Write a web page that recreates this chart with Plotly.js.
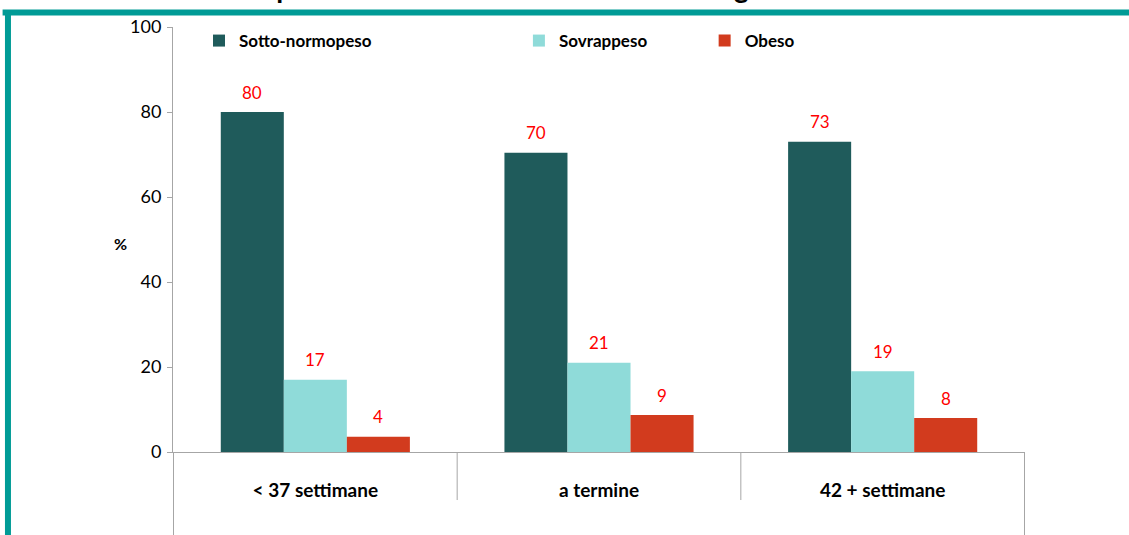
<!DOCTYPE html>
<html>
<head>
<meta charset="utf-8">
<script src="https://cdn.plot.ly/plotly-3.0.1.min.js"></script>
<style>html,body{margin:0;padding:0;background:#fff;}#chart{width:1129px;height:535px;}</style>
</head>
<body>
<div id="chart"></div>
<script>
const categories = ["< 37 settimane", "a termine", "42 + settimane"];
const seriesNames = ["Sotto-normopeso", "Sovrappeso", "Obeso"];
const sottoNormopeso = [80, 70.4, 73];
const sovrappeso = [17, 21, 19];
const obeso = [3.6, 8.7, 8];
const yTicks = [0, 20, 40, 60, 80, 100];
const titleText = "Associazione tra stato ponderale della madre e durata della gravidanza";
const yLabel = "%";

const colors = ["#1F5B5B", "#8FDBD9", "#D23B1E"];
const series = [sottoNormopeso, sovrappeso, obeso];
const legendIds = ["legend", "legend2", "legend3"];
const legendX = [0.0305, 0.406, 0.624];

const traces = series.map((vals, i) => ({
  type: "bar",
  name: seriesNames[i],
  x: categories,
  y: vals,
  marker: {color: colors[i], line: {width: 0}},
  legend: legendIds[i],
  hoverinfo: "none"
}));

const bargap = 1/3;
const plotW = 852;
const catW = plotW / categories.length;
const barW = catW * (1 - bargap) / series.length;

const annotations = [];
series.forEach((vals, i) => {
  vals.forEach((v, j) => {
    annotations.push({
      x: categories[j], y: v, xref: "x", yref: "y",
      text: String(Math.round(v)), showarrow: false,
      xshift: (i - 1) * barW, yshift: 20,
      yanchor: "middle",
      font: {family: "Lato, 'Open Sans', sans-serif", size: 17, color: "#FF0000"}
    });
  });
});
annotations.push({
  xref: "paper", yref: "paper", x: -0.0716, y: 0.49,
  text: "<b>" + yLabel + "</b>", showarrow: false,
  font: {family: "Lato, sans-serif", size: 16, color: "#000"}
});
annotations.push({
  xref: "paper", yref: "paper", x: 0.3035, y: 1.0504, xanchor: "center", yanchor: "bottom",
  text: "<b>" + titleText + "</b>", showarrow: false,
  font: {family: "Lato, sans-serif", size: 28, color: "#000"}
});

const axisGray = "#A6A6A6";
const shapes = [];
// category dividers below the axis
for (let k = 0; k <= categories.length; k++) {
  const outer = (k === 0 || k === categories.length);
  shapes.push({
    type: "line", xref: "x", yref: "paper",
    x0: k - 0.5, x1: k - 0.5, y0: 0, y1: outer ? -0.2 : -0.113,
    line: {color: axisGray, width: 1}
  });
}
// teal frame
shapes.push({type: "line", xref: "paper", yref: "paper",
  x0: -0.2, x1: 1.13, y0: 1.034, y1: 1.034, line: {color: "#009B96", width: 6}});
shapes.push({type: "line", xref: "paper", yref: "paper",
  x0: -0.1937, x1: -0.1937, y0: 1.04, y1: -0.2, line: {color: "#009B96", width: 6}});

const legendBase = {
  orientation: "h", y: 0.967, yanchor: "middle", xanchor: "left",
  bgcolor: "rgba(0,0,0,0)", borderwidth: 0,
  font: {family: "Lato, sans-serif", size: 17, color: "#000", weight: "bold"}
};

const layout = {
  width: 1129, height: 535,
  margin: {l: 173, r: 104, t: 27, b: 83, pad: 0},
  paper_bgcolor: "#fff", plot_bgcolor: "#fff",
  barmode: "group", bargap: bargap, bargroupgap: 0,
  showlegend: true,
  legend: Object.assign({}, legendBase, {x: legendX[0]}),
  legend2: Object.assign({}, legendBase, {x: legendX[1]}),
  legend3: Object.assign({}, legendBase, {x: legendX[2]}),
  xaxis: {
    type: "category", showgrid: false, zeroline: false,
    showline: true, linecolor: axisGray, linewidth: 1,
    ticks: "", ticklabelstandoff: 21,
    tickfont: {family: "Lato, sans-serif", size: 19, color: "#000", weight: "bold"}
  },
  yaxis: {
    range: [0, 100], tickvals: yTicks, showgrid: false, zeroline: false,
    showline: true, linecolor: axisGray, linewidth: 1,
    ticks: "outside", ticklen: 5, tickcolor: axisGray, ticklabelstandoff: 2,
    tickfont: {family: "Lato, sans-serif", size: 18, color: "#000"}
  },
  annotations: annotations,
  shapes: shapes
};

Plotly.newPlot("chart", traces, layout, {staticPlot: true, displayModeBar: false});
</script>
</body>
</html>
